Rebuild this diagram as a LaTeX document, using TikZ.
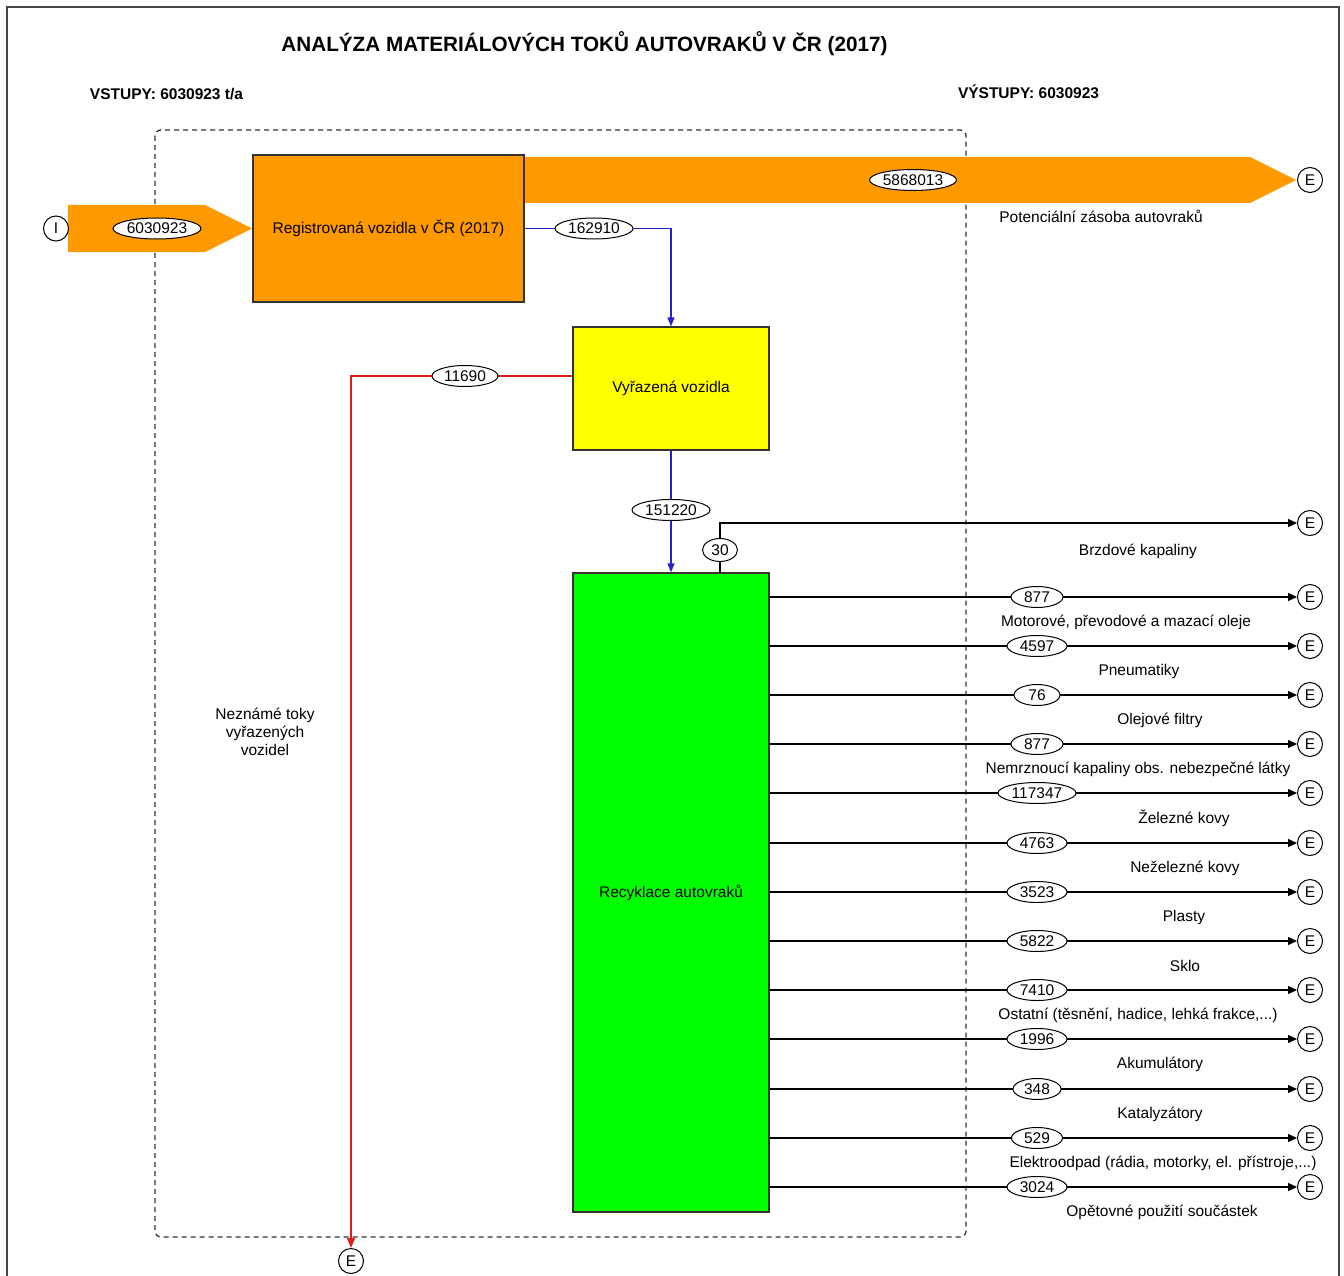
\documentclass[tikz,border=0pt]{standalone}
\usepackage{fontspec}
\setmainfont{Liberation Sans}
\usetikzlibrary{shapes.geometric,arrows.meta}
\definecolor{org}{RGB}{255,153,0}
\definecolor{ylw}{RGB}{255,255,0}
\definecolor{grn}{RGB}{0,255,0}
\definecolor{blu}{RGB}{35,35,205}
\definecolor{rd}{RGB}{225,30,30}
\definecolor{frame}{RGB}{70,70,70}
\tikzset{
  lbl/.style={font=\fontsize{15.5}{18}\selectfont, text=black, inner sep=0pt, align=center},
  hdr/.style={font=\bfseries\fontsize{15.5}{18}\selectfont, text=black, inner sep=0pt},
  val/.style={ellipse, draw=black, line width=1pt, fill=white, inner sep=0pt,
    minimum height=21pt, minimum width=#1, font=\fontsize{15.5}{18}\selectfont},
  val/.default=60pt,
  term/.style={circle, draw=black, line width=1pt, fill=white, minimum size=25pt,
    inner sep=0pt, font=\fontsize{15.5}{18}\selectfont},
  proc/.style={draw=black!80, line width=1.2pt, inner sep=0pt, align=center,
    font=\fontsize{15.5}{18}\selectfont},
  flowout/.style={draw=black, line width=1.2pt, -{Triangle[length=9pt,width=8pt]}},
  blueflow/.style={draw=blu, line width=1.2pt, -{Triangle[length=9pt,width=7pt]}},
  redflow/.style={draw=rd, line width=1.2pt, -{Triangle[length=10pt,width=8pt]}},
}
\begin{document}
\begin{tikzpicture}[x=1pt,y=-1pt]
\useasboundingbox (0,0) rectangle (1344,1276);
% frame
\draw[frame, line width=1.6pt] (7,1276) -- (7,7) -- (1339,7) -- (1339,1276);
% system boundary
\draw[black!80, line width=1.3pt, dash pattern=on 5pt off 4pt, rounded corners=6pt]
  (155,130) rectangle (966,1237);
% titles
\node[font=\bfseries\fontsize{20.7}{24}\selectfont, inner sep=0pt] (title) at (584.5,44)
  {ANALÝZA MATERIÁLOVÝCH TOKŮ AUTOVRAKŮ V ČR (2017)};
\node[hdr] (vst) at (166.5,94) {VSTUPY: 6030923 t/a};
\node[hdr] (vyst) at (1028.5,92) {VÝSTUPY: 6030923};

% big orange flows
\fill[org] (524,157) -- (1250,157) -- (1296,180) -- (1250,203) -- (524,203) -- cycle;
\fill[org] (68,205) -- (205,205) -- (252,228.5) -- (205,252) -- (68,252) -- cycle;

% processes
\node[proc, fill=org, minimum width=271pt, minimum height=147pt] (reg) at (388.5,228.5)
  {Registrovaná vozidla v ČR (2017)};
\node[proc, fill=ylw, minimum width=196pt, minimum height=123pt] (vyr) at (671,388.5)
  {Vyřazená vozidla};
\node[proc, fill=grn, minimum width=196pt, minimum height=639pt] (rec) at (671,892.5)
  {Recyklace autovraků};

% terminals of the big flows
\node[term] (iin) at (56,228.5) {I};
\node[term] (epot) at (1310,180) {E};
\node[val=88pt] (vin) at (157,228.5) {6030923};
\node[val=87pt] (vpot) at (913,180) {5868013};
\node[lbl] (tpot) at (1101,216) {Potenciální zásoba autovraků};

% blue flows
\draw[blueflow] (reg.east) -| (vyr.north);
\node[val=78pt] (v162) at (594,228.5) {162910};
\draw[blueflow] (vyr.south) -- (rec.north);
\node[val=78pt] (v151) at (671,510) {151220};

% red flow
\node[term] (eunk) at (351,1261) {E};
\draw[redflow] ([yshift=12.5pt]vyr.west) -| (eunk.north);
\node[val=66pt] (v116) at (465,376) {11690};
\node[lbl] (tunk) at (265,732) {Neznámé toky\\vyřazených\\vozidel};

% brake fluid
\node[term] (e0) at (1310,523) {E};
\draw[flowout] ([xshift=49pt]rec.north) |- (e0);
\node[val=35pt, minimum height=23pt] (v0) at (720,550) {30};
\node[lbl] (t0) at (1138,551) {Brzdové kapaliny};

% outputs of recycling
\foreach \n/\yy/\v/\w/\lab/\lx in {
  1/597/877/52/{Motorové, převodové a mazací oleje}/1126,
  2/646/4597/60/{Pneumatiky}/1139,
  3/695/76/46/{Olejové filtry}/1160,
  4/744/877/52/{Nemrznoucí kapaliny obs. nebezpečné látky}/1138,
  5/793/117347/78/{Železné kovy}/1184,
  6/843/4763/60/{Neželezné kovy}/1185,
  7/892/3523/60/{Plasty}/1184,
  8/941/5822/60/{Sklo}/1185,
  9/990/7410/60/{Ostatní (těsnění, hadice, lehká frakce,...)}/1138,
  10/1039/1996/60/{Akumulátory}/1160,
  11/1089/348/48/{Katalyzátory}/1160,
  12/1138/529/51/{Elektroodpad (rádia, motorky, el. přístroje,...)}/1163,
  13/1187/3024/60/{Opětovné použití součástek}/1162}
{
  \node[term] (e\n) at (1310,\yy) {E};
  \draw[flowout] (rec.east |- e\n) -- (e\n);
  \node[val=\w pt] (v\n) at (1037,\yy) {\v};
  \node[lbl] (t\n) at (\lx,\yy+25) {\lab};
}
\end{tikzpicture}
\end{document}
